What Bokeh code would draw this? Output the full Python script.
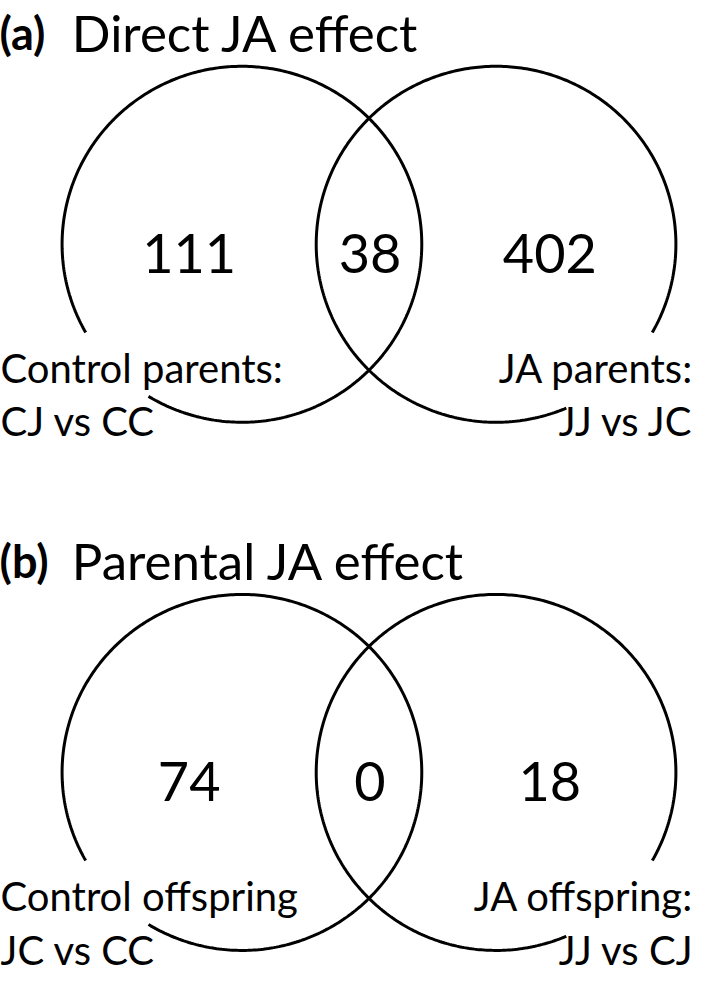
import numpy as np
from bokeh.plotting import figure
from bokeh.models import Range1d, ColumnDataSource
from bokeh.core.properties import value
from bokeh.embed import file_html
from bokeh.resources import INLINE

# ---- data ----
panel_tags = ["(a)", "(b)"]
panel_titles = ["Direct JA effect", "Parental JA effect"]
left_only = [111, 74]
shared = [38, 0]
right_only = [402, 18]
left_label_1 = ["Control parents:", "Control offspring"]
left_label_2 = ["CJ vs CC", "JC vs CC"]
right_label_1 = ["JA parents:", "JA offspring:"]
right_label_2 = ["JJ vs JC", "JJ vs CJ"]

# ---- layout (reference pixel space, y downwards) ----
REF_W = 709
Y_TOP, Y_BOT = -2, 1008
SCALE = 977 / (Y_BOT - Y_TOP)
panel_dy = [0, 546]
cx_left, cx_right, cy, r = 247, 507, 250, 184
gap_left = (209.7, 238.7)    # degrees, math convention
gap_right = (293.0, 330.3)
FONT = "Lato"
DESC = 0.213  # font descent fraction, compensates baseline placement

p = figure(width=693, height=977, x_range=Range1d(0, REF_W), y_range=Range1d(Y_BOT, Y_TOP),
           output_backend="svg", toolbar_location=None, x_axis_type=None, y_axis_type=None,
           min_border=0, title=None)
p.grid.visible = False
p.outline_line_color = None
p.background_fill_color = "white"
p.border_fill_color = "white"


def base(y, size):
    return y - DESC * size / SCALE


def arc_pts(cx, cy0, gap):
    a0 = np.radians(gap[1])
    a1 = np.radians(gap[0] + 360)
    t = np.linspace(a0, a1, 400)
    return cx + r * np.cos(t), cy0 - r * np.sin(t)


for i in range(2):
    dy = panel_dy[i]
    for cx, gap in ((cx_left, gap_left), (cx_right, gap_right)):
        xs, ys = arc_pts(cx, cy + dy, gap)
        p.line(xs, ys, line_color="black", line_width=3)

    # titles
    p.text(x=[-1], y=[base(41 + dy, 45)], text=[panel_tags[i]], text_font=value(FONT),
           text_font_style="bold", text_font_size="45px", text_baseline="alphabetic",
           text_align="left", text_color="black")
    p.text(x=[73], y=[base(42 + dy, 51)], text=[panel_titles[i]], text_font=value(FONT),
           text_font_size="51px", text_baseline="alphabetic", text_align="left", text_color="black")

    # counts
    src = ColumnDataSource(dict(x=[193, 378, 562], y=[base(271 + dy, 54)] * 3,
                                t=[str(left_only[i]), str(shared[i]), str(right_only[i])]))
    p.text(x="x", y="y", text="t", source=src, text_font=value(FONT), text_font_size="54px",
           text_baseline="alphabetic", text_align="center", text_color="black")

    # labels
    ys = [base(387 + dy, 40), base(442 + dy, 40)]
    p.text(x=[0, 0], y=ys, text=[left_label_1[i], left_label_2[i]],
           text_font=value(FONT), text_font_size="40px", text_baseline="alphabetic",
           text_align="left", text_color="black")
    p.text(x=[709, 709], y=ys, text=[right_label_1[i], right_label_2[i]],
           text_font=value(FONT), text_font_size="40px", text_baseline="alphabetic",
           text_align="right", text_color="black")

open("out.html", "w").write(file_html(p, INLINE))
